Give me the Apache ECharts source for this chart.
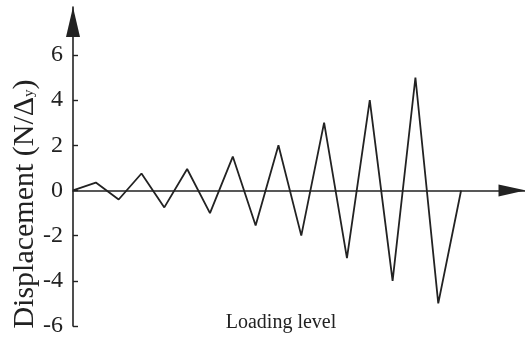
<!DOCTYPE html>
<html>
<head>
<meta charset="utf-8">
<style>
  html, body { margin: 0; padding: 0; background: #fff; }
  #chart { width: 525px; height: 338px; }
</style>
<script src="https://cdn.jsdelivr.net/npm/echarts@6/dist/echarts.min.js"></script>
</head>
<body>
<div id="chart"></div>
<script>
// Loading steps (x positions of the cycle turning points)
const steps = [0, 1, 2, 3, 4, 5, 6, 7, 8, 9, 10, 11, 12, 13, 14, 15, 16, 17];
// Normalised displacement at each turning point
const displacement = [0, 0.35, -0.4, 0.75, -0.75, 0.95, -1, 1.5, -1.55, 2, -2, 3, -3, 4, -4, 5, -5, 0];
// Tick values shown on the vertical axis
const yTicks = [-6, -4, -2, 0, 2, 4, 6];

const serif = '"Liberation Serif", "Times New Roman", serif';
const ink = '#222';

const chart = echarts.init(document.getElementById('chart'), null, { renderer: 'canvas' });

chart.setOption({
  animation: false,
  backgroundColor: '#fff',
  grid: { left: 73, right: 0, top: 7, bottom: 12 },
  xAxis: {
    type: 'value',
    min: 0,
    max: 19.8,
    axisLine: {
      onZero: true,
      symbol: ['none', 'triangle'],
      symbolSize: [12, 27],
      symbolOffset: [0, -13],
      lineStyle: { color: ink, width: 1.6 }
    },
    axisTick: { show: false },
    axisLabel: { show: false },
    splitLine: { show: false }
  },
  yAxis: {
    type: 'value',
    min: -6,
    max: 8.12,
    interval: 2,
    axisLine: {
      show: true,
      onZero: false,
      symbol: ['none', 'triangle'],
      symbolSize: [14, 30],
      symbolOffset: [0, -15],
      lineStyle: { color: ink, width: 1.6 }
    },
    axisTick: {
      show: true,
      inside: true,
      length: 5,
      customValues: yTicks,
      lineStyle: { color: ink, width: 1.4 }
    },
    axisLabel: {
      customValues: yTicks,
      margin: 10,
      color: ink,
      fontFamily: serif,
      fontSize: 24
    },
    splitLine: { show: false }
  },
  series: [{
    type: 'line',
    data: steps.map((s, i) => [s, displacement[i]]),
    symbol: 'none',
    lineStyle: { color: ink, width: 1.8 },
    z: 3
  }],
  graphic: [
    {
      type: 'text',
      x: 25,
      y: 204,
      rotation: Math.PI / 2,
      style: {
        text: '{a|Displacement (N/Δ}{b|y}{a|)}',
        align: 'center',
        verticalAlign: 'middle',
        rich: {
          a: { fontFamily: serif, fontSize: 30, fill: ink },
          b: { fontFamily: serif, fontSize: 15, fill: ink, padding: [8, 0, 0, 0] }
        }
      }
    },
    {
      type: 'text',
      x: 281,
      y: 323,
      style: {
        text: 'Loading level',
        align: 'center',
        verticalAlign: 'middle',
        fontFamily: serif,
        fontSize: 20,
        fill: ink
      }
    }
  ]
});
</script>
</body>
</html>
